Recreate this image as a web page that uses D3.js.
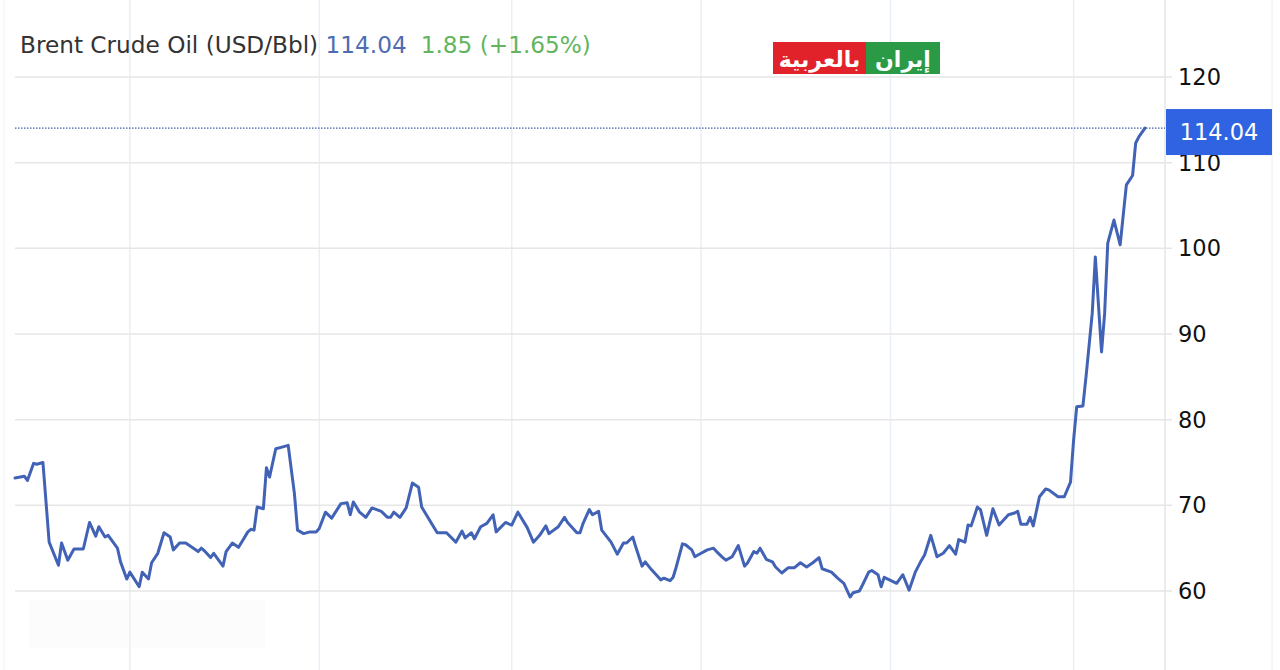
<!DOCTYPE html>
<html>
<head>
<meta charset="utf-8">
<script src="https://cdn.jsdelivr.net/npm/d3@7"></script>
<style>
  html, body { margin: 0; padding: 0; background: #fff; }
  svg { display: block; font-family: "DejaVu Sans", "Liberation Sans", Arial, sans-serif; }
</style>
</head>
<body>
<div id="chart"></div>
<script>
var width = 1280,
    height = 670;

// chart header values
var titleText = "Brent Crude Oil (USD/Bbl)";
var lastPrice = 114.04;
var changeText = "1.85 (+1.65%)";
var logoRed = "بالعربية";
var logoGreen = "إيران";

// y axis ticks
var yTicks = [60, 70, 80, 90, 100, 110, 120];

// daily closes
var dates = [
    "2025-03-25", "2025-03-28", "2025-03-29", "2025-03-31", "2025-04-01", "2025-04-03", "2025-04-05", "2025-04-08",
    "2025-04-09", "2025-04-11", "2025-04-13", "2025-04-16", "2025-04-18", "2025-04-20", "2025-04-21", "2025-04-23",
    "2025-04-24", "2025-04-27", "2025-04-28", "2025-04-30", "2025-05-01", "2025-05-04", "2025-05-05", "2025-05-07",
    "2025-05-08", "2025-05-10", "2025-05-12", "2025-05-14", "2025-05-15", "2025-05-17", "2025-05-19", "2025-05-21",
    "2025-05-23", "2025-05-24", "2025-05-25", "2025-05-27", "2025-05-28", "2025-05-31", "2025-06-01", "2025-06-03",
    "2025-06-05", "2025-06-06", "2025-06-08", "2025-06-09", "2025-06-10", "2025-06-11", "2025-06-13", "2025-06-14",
    "2025-06-15", "2025-06-17", "2025-06-19", "2025-06-21", "2025-06-23", "2025-06-24", "2025-06-26", "2025-06-28",
    "2025-06-30", "2025-07-01", "2025-07-03", "2025-07-05", "2025-07-08", "2025-07-10", "2025-07-11", "2025-07-12",
    "2025-07-14", "2025-07-16", "2025-07-18", "2025-07-21", "2025-07-23", "2025-07-24", "2025-07-25", "2025-07-27",
    "2025-07-29", "2025-07-31", "2025-08-02", "2025-08-03", "2025-08-06", "2025-08-08", "2025-08-11", "2025-08-14",
    "2025-08-16", "2025-08-17", "2025-08-19", "2025-08-20", "2025-08-22", "2025-08-24", "2025-08-26", "2025-08-27",
    "2025-08-30", "2025-09-01", "2025-09-03", "2025-09-06", "2025-09-08", "2025-09-10", "2025-09-12", "2025-09-13",
    "2025-09-16", "2025-09-18", "2025-09-19", "2025-09-22", "2025-09-23", "2025-09-24", "2025-09-26", "2025-09-27",
    "2025-09-29", "2025-09-30", "2025-10-03", "2025-10-05", "2025-10-07", "2025-10-08", "2025-10-10", "2025-10-11",
    "2025-10-13", "2025-10-14", "2025-10-16", "2025-10-19", "2025-10-20", "2025-10-22", "2025-10-23", "2025-10-24",
    "2025-10-26", "2025-10-27", "2025-10-29", "2025-10-30", "2025-11-01", "2025-11-03", "2025-11-05", "2025-11-06",
    "2025-11-08", "2025-11-09", "2025-11-11", "2025-11-13", "2025-11-15", "2025-11-16", "2025-11-18", "2025-11-19",
    "2025-11-20", "2025-11-22", "2025-11-24", "2025-11-25", "2025-11-27", "2025-11-29", "2025-12-01", "2025-12-03",
    "2025-12-05", "2025-12-07", "2025-12-09", "2025-12-10", "2025-12-13", "2025-12-15", "2025-12-17", "2025-12-19",
    "2025-12-20", "2025-12-22", "2025-12-23", "2025-12-25", "2025-12-26", "2025-12-28", "2025-12-29", "2025-12-30",
    "2026-01-03", "2026-01-05", "2026-01-07", "2026-01-09", "2026-01-11", "2026-01-12", "2026-01-14", "2026-01-16",
    "2026-01-18", "2026-01-20", "2026-01-22", "2026-01-23", "2026-01-25", "2026-01-26", "2026-01-27", "2026-01-29",
    "2026-01-30", "2026-02-01", "2026-02-03", "2026-02-05", "2026-02-08", "2026-02-10", "2026-02-11", "2026-02-12",
    "2026-02-14", "2026-02-15", "2026-02-16", "2026-02-18", "2026-02-20", "2026-02-21", "2026-02-24", "2026-02-26",
    "2026-02-28", "2026-03-01", "2026-03-02", "2026-03-04", "2026-03-05", "2026-03-07", "2026-03-08", "2026-03-10",
    "2026-03-11", "2026-03-12", "2026-03-14", "2026-03-16", "2026-03-18", "2026-03-20", "2026-03-21", "2026-03-22",
    "2026-03-24"
];

var prices = [
    73.2, 73.4, 72.9, 74.9, 74.8, 75.0, 65.7, 63.0,
    65.6, 63.6, 64.9, 64.9, 68.0, 66.4, 67.5, 66.3,
    66.5, 65.0, 63.4, 61.4, 62.2, 60.5, 62.2, 61.4,
    63.3, 64.4, 66.8, 66.3, 64.8, 65.6, 65.6, 65.1,
    64.6, 65.0, 64.7, 63.9, 64.4, 62.9, 64.6, 65.6,
    65.1, 65.7, 66.9, 67.2, 67.1, 69.8, 69.6, 74.4,
    73.3, 76.6, 76.8, 77.0, 71.4, 67.1, 66.7, 66.9,
    66.9, 67.3, 69.2, 68.5, 70.2, 70.3, 68.9, 70.4,
    69.2, 68.6, 69.7, 69.3, 68.6, 68.6, 69.2, 68.6,
    69.7, 72.6, 72.1, 69.8, 68.0, 66.8, 66.8, 65.7,
    67.0, 66.2, 66.8, 66.1, 67.5, 67.9, 68.9, 66.9,
    68.0, 67.7, 69.2, 67.4, 65.7, 66.5, 67.6, 66.7,
    67.5, 68.6, 68.0, 66.8, 66.8, 67.9, 69.5, 68.9,
    69.3, 67.1, 65.7, 64.3, 65.6, 65.6, 66.3, 65.1,
    62.9, 63.4, 62.5, 61.3, 61.5, 61.2, 61.6, 62.8,
    65.5, 65.4, 64.8, 64.0, 64.4, 64.8, 65.0, 64.6,
    63.9, 63.6, 64.0, 65.3, 62.9, 63.3, 64.6, 64.4,
    65.0, 63.7, 63.4, 62.8, 62.1, 62.7, 62.7, 63.3,
    62.8, 63.3, 63.9, 62.6, 62.2, 61.5, 60.9, 59.3,
    59.8, 60.0, 60.7, 62.2, 62.4, 61.9, 60.5, 61.6,
    60.9, 61.9, 60.1, 62.2, 63.6, 64.2, 66.5, 64.0,
    64.4, 65.3, 64.3, 66.0, 65.7, 67.7, 67.6, 69.8,
    69.5, 66.5, 69.6, 67.7, 68.9, 69.1, 69.3, 67.8,
    67.8, 68.6, 67.6, 71.0, 71.9, 71.8, 71.0, 71.0,
    72.7, 77.6, 81.5, 81.6, 85.0, 92.4, 99.0, 87.9,
    92.4, 100.6, 103.3, 100.4, 107.4, 108.5, 112.3, 113.0,
    114.04
];

var parseDate = d3.timeParse("%Y-%m-%d");
var data = dates.map(function (d, i) {
    return { date: parseDate(d), value: prices[i] };
});

var plotLeft = 15,
    plotRight = 1145,
    axisX = 1165;

var x = d3.scaleTime()
    .domain(d3.extent(data, function (d) { return d.date; }))
    .range([plotLeft, plotRight]);

var y = d3.scaleLinear()
    .domain([60, 120])
    .range([591, 77]);

var svg = d3.select("#chart").append("svg")
    .attr("width", width)
    .attr("height", height);

// faint frame lines
svg.append("line")
    .attr("x1", 4).attr("x2", 4)
    .attr("y1", 0).attr("y2", height)
    .attr("stroke", "#f2f2f2");

svg.append("line")
    .attr("x1", 1272).attr("x2", 1272)
    .attr("y1", 0).attr("y2", height)
    .attr("stroke", "#eeeeee");

// faded watermark block bottom left
svg.append("rect")
    .attr("x", 30).attr("y", 600)
    .attr("width", 235).attr("height", 48)
    .attr("fill", "#fcfcfc");

// vertical grid (every 2 months)
var monthTicks = x.ticks(d3.timeMonth.every(2));
svg.append("g").selectAll("line")
    .data(monthTicks)
    .enter().append("line")
    .attr("x1", function (d) { return x(d); })
    .attr("x2", function (d) { return x(d); })
    .attr("y1", 0)
    .attr("y2", height)
    .attr("stroke", "#e9eff7")
    .attr("stroke-width", 1.5);

// horizontal grid
svg.append("g").selectAll("line")
    .data(yTicks)
    .enter().append("line")
    .attr("x1", plotLeft)
    .attr("x2", axisX + 7)
    .attr("y1", function (d) { return y(d); })
    .attr("y2", function (d) { return y(d); })
    .attr("stroke", "#e6e6e6")
    .attr("stroke-width", 1.5);

// right axis line
svg.append("line")
    .attr("x1", axisX).attr("x2", axisX)
    .attr("y1", 0).attr("y2", height)
    .attr("stroke", "#e6e6e6")
    .attr("stroke-width", 1.5);

// tick labels
svg.append("g").selectAll("text")
    .data(yTicks)
    .enter().append("text")
    .attr("x", 1178)
    .attr("y", function (d) { return y(d); })
    .attr("dy", "0.36em")
    .attr("font-size", 22.5)
    .attr("fill", "#111")
    .text(function (d) { return d; });

// last price dotted guide
svg.append("line")
    .attr("x1", plotLeft)
    .attr("x2", axisX)
    .attr("y1", y(lastPrice))
    .attr("y2", y(lastPrice))
    .attr("stroke", "#3f5fa8")
    .attr("stroke-width", 1.2)
    .attr("stroke-dasharray", "1.5,1.5");

// price line
var line = d3.line()
    .x(function (d) { return x(d.date); })
    .y(function (d) { return y(d.value); });

svg.append("path")
    .datum(data)
    .attr("d", line)
    .attr("fill", "none")
    .attr("stroke", "#4263b5")
    .attr("stroke-width", 3)
    .attr("stroke-linejoin", "round")
    .attr("stroke-linecap", "round");

// last price badge
var badge = svg.append("g")
    .attr("transform", "translate(" + (axisX + 1) + "," + (y(lastPrice) - 19) + ")");

badge.append("rect")
    .attr("width", 106)
    .attr("height", 46)
    .attr("fill", "#3063e2");

badge.append("text")
    .attr("x", 53)
    .attr("y", 23)
    .attr("dy", "0.36em")
    .attr("text-anchor", "middle")
    .attr("font-size", 22.5)
    .attr("fill", "#fff")
    .text(lastPrice.toFixed(2));

// title
var title = svg.append("text")
    .attr("x", 20)
    .attr("y", 53)
    .attr("font-size", 23.2);

title.append("tspan").attr("fill", "#333").text(titleText + " ");
title.append("tspan").attr("fill", "#4f6cb2").text(lastPrice.toFixed(2));
title.append("tspan").attr("fill", "#62b55e").attr("dx", 14).text(changeText);

// logo
var logo = svg.append("g").attr("transform", "translate(773,42)");
logo.append("rect").attr("width", 93).attr("height", 32).attr("fill", "#e2222a");
logo.append("rect").attr("x", 93).attr("width", 74).attr("height", 32).attr("fill", "#2b9a47");
logo.append("text")
    .attr("x", 46.5).attr("y", 17)
    .attr("dy", "0.35em")
    .attr("text-anchor", "middle")
    .attr("font-weight", "bold")
    .attr("font-size", 22)
    .attr("fill", "#fff")
    .text(logoRed);
logo.append("text")
    .attr("x", 130).attr("y", 17)
    .attr("dy", "0.35em")
    .attr("text-anchor", "middle")
    .attr("font-weight", "bold")
    .attr("font-size", 22)
    .attr("fill", "#fff")
    .text(logoGreen);
</script>
</body>
</html>
